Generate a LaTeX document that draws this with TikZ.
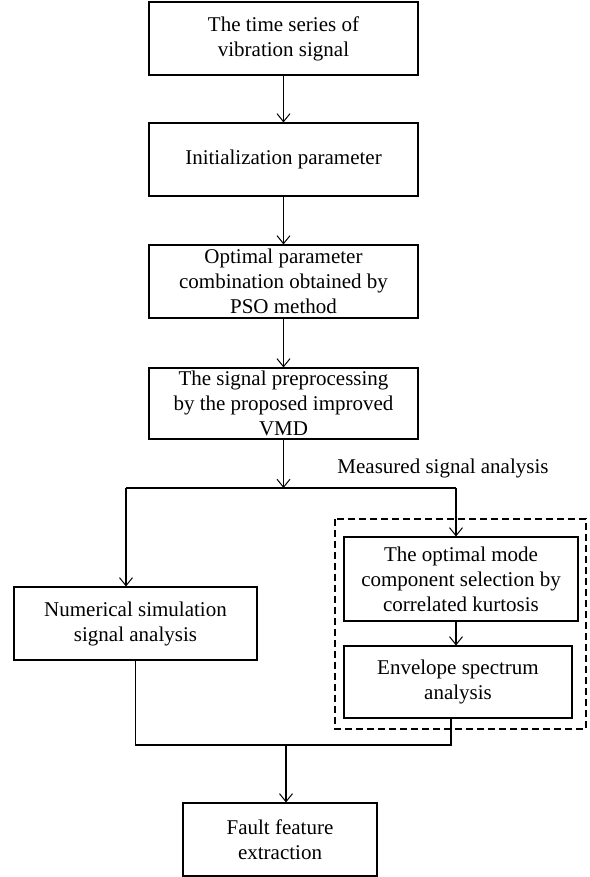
\documentclass[tikz,border=0pt]{standalone}
\usepackage{fontspec}
\setmainfont{Liberation Serif}
\usetikzlibrary{arrows.meta}

\begin{document}
\begin{tikzpicture}
  [x=1pt,y=-1pt,line width=1.1pt,
   every node/.style={draw,rectangle,align=center,inner sep=0pt,
     font=\fontsize{21}{25}\selectfont},
   arr/.style={-{Straight Barb[length=8pt,width=13pt,line width=1pt]}}]
  \useasboundingbox (0,0) rectangle (589,877);

  \node[minimum width=269pt,minimum height=73pt] (1) at (283.5,38.5) {The time series of\\vibration signal};
  \node[minimum width=269pt,minimum height=73pt] (2) at (283.5,159.5) {Initialization parameter};
  \node[minimum width=269pt,minimum height=73pt] (3) at (283.5,281.5) {Optimal parameter\\combination obtained by\\PSO method};
  \node[minimum width=269pt,minimum height=71pt] (4) at (283.5,403.5) {The signal preprocessing\\by the proposed improved\\VMD};
  \node[minimum width=243pt,minimum height=73pt] (5) at (135.5,623.5) {Numerical simulation\\signal analysis};
  \node[minimum width=234pt,minimum height=84pt] (6) at (461,579) {The optimal mode\\component selection by\\correlated kurtosis};
  \node[minimum width=228pt,minimum height=72pt] (7) at (458,682) {Envelope spectrum\\analysis};
  \node[minimum width=194pt,minimum height=73pt] (8) at (280,839.5) {Fault feature\\extraction};
  \node[draw=none] (m) at (443,468) {Measured signal analysis};

  \coordinate (a) at (283.5,488);
  \coordinate (b) at (126,488);
  \coordinate (c) at (456,488);
  \coordinate (d) at (135.5,745);
  \coordinate (e) at (451,745);
  \coordinate (f) at (286,745);

  \foreach \from/\to in {1/2,2/3,3/4}
    \draw[arr] (\from) -- (\to);
  \draw[arr] (4) -- (a);
  \draw (b) -- (c);
  \draw[arr] (b) -- (b |- 5.north);
  \draw[arr] (c) -- (c |- 6.north);
  \draw[arr] (6.south -| c) -- (c |- 7.north);
  \draw (5) -- (d) -- (e) -- (e |- 7.south);
  \draw[arr] (f) -- (f |- 8.north);

  % dashed frame round the measured branch
  \draw[dashed,dash pattern=on 7pt off 4pt] (335,519) rectangle (586,729);
\end{tikzpicture}
\end{document}
